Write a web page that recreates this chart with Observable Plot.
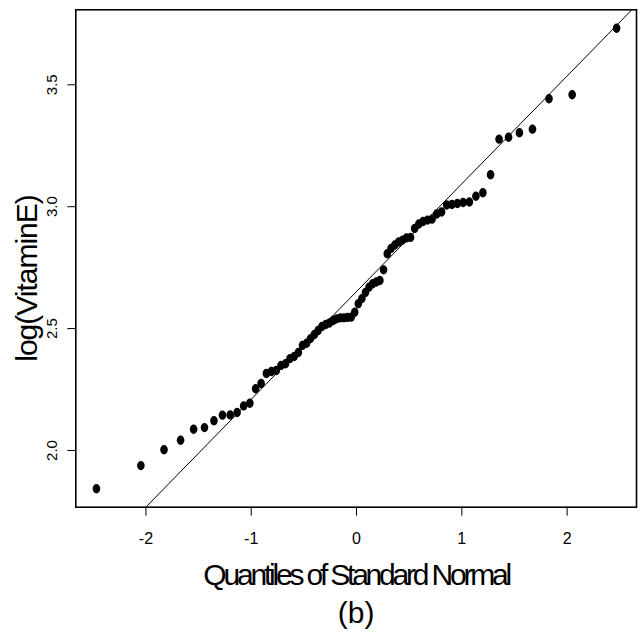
<!DOCTYPE html>
<html>
<head>
<meta charset="utf-8">
<script src="https://cdn.jsdelivr.net/npm/d3@7"></script>
<script src="https://cdn.jsdelivr.net/npm/@observablehq/plot@0.6"></script>
<style>
  html, body { margin: 0; padding: 0; background: #fff; }
  #chart svg { display: block; }
</style>
</head>
<body>
<div id="chart"></div>
<script>
// Theoretical quantiles (x)
const quantiles = [-2.470,-2.048,-1.828,-1.671,-1.547,-1.444,-1.354,-1.273,-1.200,-1.134,
  -1.072,-1.013,-0.958,-0.906,-0.856,-0.808,-0.762,-0.717,-0.674,-0.632,
  -0.592,-0.552,-0.513,-0.474,-0.437,-0.400,-0.364,-0.328,-0.292,-0.257,
  -0.222,-0.188,-0.153,-0.119,-0.085,-0.051,-0.017,0.017,0.051,0.085,
  0.119,0.153,0.188,0.222,0.257,0.292,0.328,0.364,0.400,0.437,
  0.474,0.513,0.552,0.592,0.632,0.674,0.717,0.762,0.808,0.856,
  0.906,0.958,1.013,1.072,1.134,1.200,1.273,1.354,1.444,1.547,
  1.671,1.828,2.048,2.470];
// Sample values log(VitaminE)
const logVitaminE = [1.843,1.938,2.003,2.042,2.087,2.094,2.122,2.145,2.146,2.156,
  2.183,2.194,2.253,2.275,2.316,2.324,2.328,2.349,2.356,2.377,
  2.386,2.402,2.431,2.440,2.459,2.476,2.492,2.509,2.517,2.523,
  2.533,2.540,2.544,2.544,2.546,2.547,2.567,2.602,2.623,2.648,
  2.670,2.684,2.691,2.697,2.741,2.807,2.829,2.843,2.855,2.863,
  2.872,2.874,2.911,2.929,2.939,2.945,2.949,2.970,2.978,3.007,
  3.009,3.013,3.017,3.019,3.043,3.057,3.131,3.277,3.285,3.303,
  3.318,3.443,3.459,3.732];
const xTicks = [-2, -1, 0, 1, 2];
const yTicks = [2.0, 2.5, 3.0, 3.5];
const lineIntercept = 2.652;
const lineSlope = 0.442;
const xLabel = "Quantiles of Standard Normal";
const yLabel = "log(VitaminE)";
const caption = "(b)";

const xDomain = [-2.666, 2.659];
const yDomain = [1.7674, 3.8076];

const points = quantiles.map((q, i) => ({q, v: logVitaminE[i]}));
const refLine = xDomain.map(q => ({q, v: lineIntercept + lineSlope * q}));

// ellipse symbol (R pch 16 looks slightly taller than wide)
const ellipse = {
  draw(ctx, size) {
    const rx = 3.8, ry = 4.7, k = 0.5523;
    ctx.moveTo(rx, 0);
    ctx.bezierCurveTo(rx, k * ry, k * rx, ry, 0, ry);
    ctx.bezierCurveTo(-k * rx, ry, -rx, k * ry, -rx, 0);
    ctx.bezierCurveTo(-rx, -k * ry, -k * rx, -ry, 0, -ry);
    ctx.bezierCurveTo(k * rx, -ry, rx, -k * ry, rx, 0);
    ctx.closePath();
  }
};

const chart = Plot.plot({
  width: 644,
  height: 643,
  marginLeft: 75.3,
  marginRight: 8,
  marginTop: 9.3,
  marginBottom: 136.3,
  style: {fontFamily: "'Liberation Sans', Arial, Helvetica, sans-serif", background: "#fff", color: "#000"},
  x: {domain: xDomain},
  y: {domain: yDomain},
  marks: [
    Plot.line(refLine, {x: "q", y: "v", stroke: "#000", strokeWidth: 1, clip: true}),
    Plot.dot(points, {x: "q", y: "v", fill: "#000", stroke: "none", symbol: ellipse, r: 4}),
    Plot.frame({stroke: "#000", strokeWidth: 1.6}),
    Plot.axisX(xTicks, {tickSize: 9, tickPadding: 16, fontSize: 16, label: null, stroke: "#000", strokeWidth: 1, tickFormat: d => d < 0 ? "-" + Math.abs(d) : String(d)}),
    Plot.axisY(yTicks, {tickSize: 8, text: null, label: null, stroke: "#000", strokeWidth: 1}),
    Plot.text(yTicks, {y: d => d, text: d => d.toFixed(1), frameAnchor: "left", rotate: -90, dx: -23.3, fontSize: 15, textAnchor: "middle", lineAnchor: "middle", fill: "#000"}),
    Plot.text([yLabel], {frameAnchor: "left", text: d => d, rotate: -90, dx: -48.8, dy: 20, fontSize: 30, textAnchor: "middle", lineAnchor: "middle", fill: "#000"}),
    Plot.text([xLabel], {frameAnchor: "bottom", text: d => d, dy: 67.8, fontSize: 30, textAnchor: "middle", lineAnchor: "middle", fill: "#000"}),
    Plot.text([caption], {frameAnchor: "bottom", text: d => d, dy: 106.5, fontSize: 30, textAnchor: "middle", lineAnchor: "middle", fill: "#000"})
  ]
});

d3.select(chart).selectAll("text").each(function() {
  if (this.textContent === xLabel) d3.select(this).attr("letter-spacing", "-3.2px");
  if (this.textContent === yLabel) d3.select(this).attr("letter-spacing", "-1px");
});

document.getElementById("chart").appendChild(chart);
</script>
</body>
</html>
